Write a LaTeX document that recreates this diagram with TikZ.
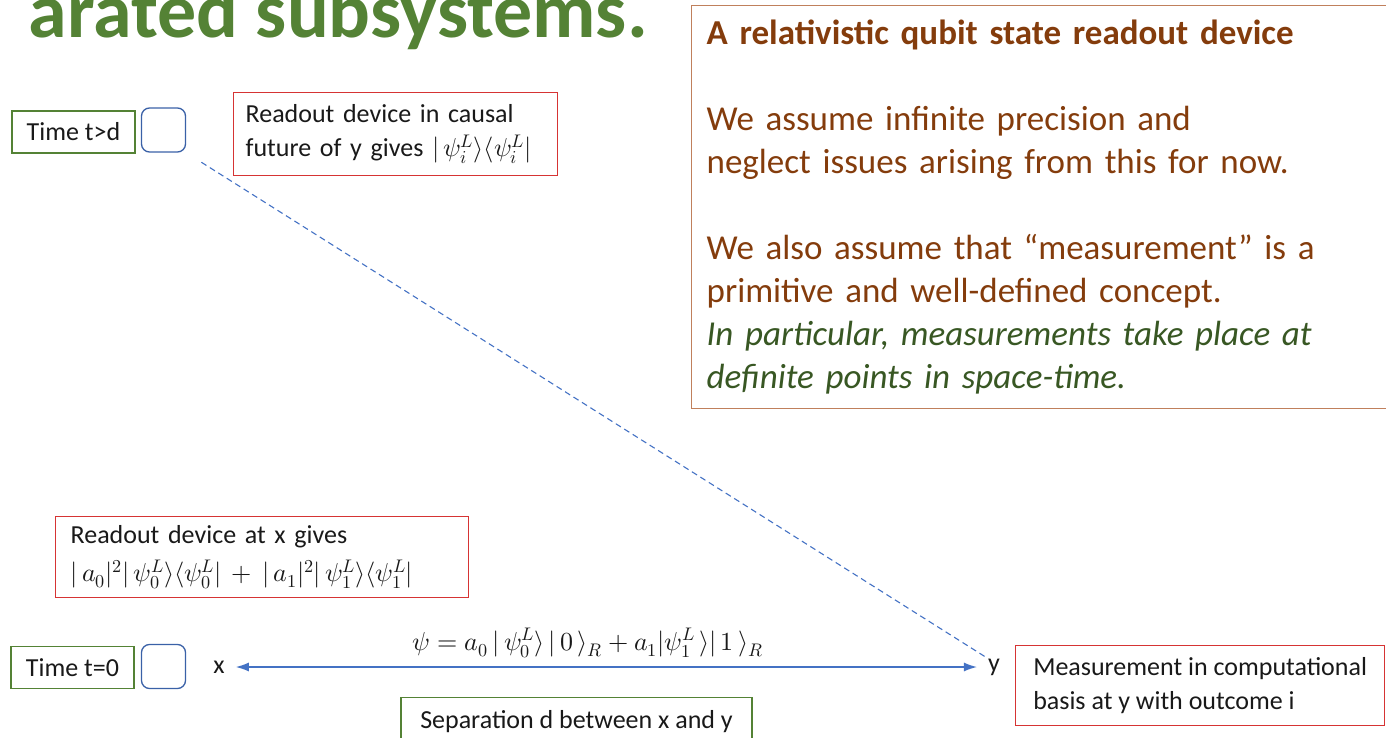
\documentclass[tikz,border=0pt]{standalone}
\usepackage{fontspec}
\usepackage{unicode-math}
\setmainfont{Carlito}
\usetikzlibrary{arrows.meta,positioning}
\definecolor{slidegreen}{RGB}{84,130,53}
\definecolor{darkgreen}{RGB}{56,87,35}
\definecolor{boxred}{RGB}{214,52,52}
\definecolor{qblue}{RGB}{68,114,196}
\definecolor{textbrown}{RGB}{132,60,12}
\definecolor{boxbrown}{RGB}{192,128,92}

\begin{document}
\begin{tikzpicture}[
    x=1pt, y=-1pt,
    txt/.style={font=\fontsize{26}{34}\selectfont, text=black!90},
    note/.style={txt, draw, line width=1.3pt, inner sep=0pt, align=left, anchor=north west},
    timebox/.style={txt, draw=slidegreen, line width=1.3pt, minimum width=123pt, minimum height=42pt, inner sep=0pt},
    quad/.style={draw=qblue!85!black, line width=1.3pt, rounded corners=8pt, minimum size=44pt, inner sep=0pt},
    pt/.style={txt, inner sep=0pt}
]
\path[use as bounding box, clip] (0,0) rectangle (1386,738);

% slide heading, cut by the frame
\node[font=\fontsize{78}{84}\selectfont\bfseries, text=slidegreen, anchor=base east, inner sep=0pt] (heading) at (648,38) {arated subsystems.};

% later time
\node[timebox] (tlate) at (73.5,132) {Time t>d};
\node[quad] (qlate) at (163.5,130) {};
\node[note, draw=boxred, text width=300pt, inner xsep=12pt, minimum height=83pt] (futurebox) at (233,92)
    {Readout device in causal\\future of y gives $|\,\psi_i^L\rangle\langle\psi_i^L|$};

% assumptions
\node[draw=boxbrown, line width=1.3pt, anchor=north west, align=left, text width=700pt,
      minimum height=403pt, inner xsep=15pt, inner ysep=10pt, text=textbrown,
      font=\fontsize{35}{43}\selectfont] (assume) at (691,5)
    {\textbf{A relativistic qubit state readout device}\\[43pt]
     We assume infinite precision and\\
     neglect issues arising from this for now.\\[43pt]
     We also assume that “measurement” is a\\
     primitive and well-defined concept.\\
     \textcolor{darkgreen}{\itshape In particular, measurements take place at}\\
     \textcolor{darkgreen}{\itshape definite points in space-time.}};

% time zero
\node[note, draw=boxred, text width=383pt, inner xsep=15pt, minimum height=81pt,
      font=\fontsize{26}{38}\selectfont] (xbox) at (55,516)
    {Readout device at x gives\\
     $|\,a_0|^2|\,\psi_0^L\rangle\langle\psi_0^L| \,+\, |\,a_1|^2|\,\psi_1^L\rangle\langle\psi_1^L|$};
\node[timebox] (tzero) at (72.5,667.5) {Time t=0};
\node[quad] (qzero) at (163.5,666.5) {};
\node[pt] (xlab) at (219,667) {x};
\node[pt] (ylab) at (994,667) {y};
\node[pt] (psi) at (588,643) {$\psi = a_0\,|\,\psi_0^L\rangle\,|\,0\,\rangle_R + a_1|\psi_1^L\,\rangle|\,1\,\rangle_R$};
\node[note, draw=slidegreen, anchor=north, minimum width=351pt, minimum height=48pt] (sepbox) at (576.5,697)
    {Separation d between x and y};
\node[note, draw=boxred, minimum width=369pt, minimum height=80pt] (measbox) at (1015,645)
    {Measurement in computational\\basis at y with outcome i};

\draw[qblue, line width=1.3pt, {Latex[length=13pt,width=9pt]}-{Latex[length=13pt,width=9pt]},
      shorten <=11pt, shorten >=11pt] (xlab) -- (ylab);
\draw[qblue, line width=1.1pt, dash pattern=on 6pt off 4pt, shorten <=18pt, shorten >=3pt]
      (qlate.south east) -- (ylab.north west);
\end{tikzpicture}
\end{document}
